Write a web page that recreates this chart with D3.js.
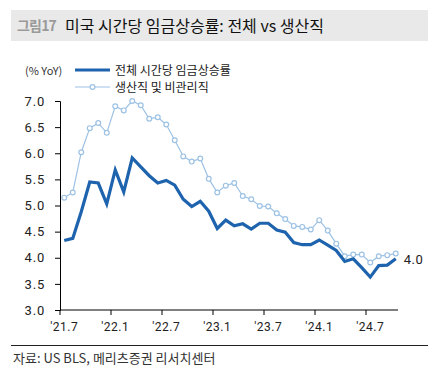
<!DOCTYPE html>
<html>
<head>
<meta charset="utf-8">
<script src="https://cdn.jsdelivr.net/npm/d3@7"></script>
<style>
  body { margin: 0; background: #fff; }
  svg { display: block; font-family: "Noto Sans CJK KR", "Noto Sans", sans-serif; }
</style>
</head>
<body>
<svg id="chart" width="436" height="374"></svg>
<script>
// the data
const months = [
  "21.7","21.8","21.9","21.10","21.11","21.12",
  "22.1","22.2","22.3","22.4","22.5","22.6","22.7","22.8","22.9","22.10","22.11","22.12",
  "23.1","23.2","23.3","23.4","23.5","23.6","23.7","23.8","23.9","23.10","23.11","23.12",
  "24.1","24.2","24.3","24.4","24.5","24.6","24.7","24.8","24.9","24.10"
];
const allWorkers = [
  4.33, 4.37, 4.88, 5.45, 5.43, 5.03, 5.68, 5.26, 5.91, 5.74,
  5.57, 5.43, 5.48, 5.39, 5.12, 4.98, 5.08, 4.89, 4.56, 4.72,
  4.61, 4.65, 4.55, 4.66, 4.66, 4.53, 4.49, 4.29, 4.25, 4.25,
  4.34, 4.24, 4.14, 3.93, 3.98, 3.81, 3.63, 3.85, 3.86, 3.98
];
const production = [
  5.15, 5.25, 6.02, 6.48, 6.58, 6.39, 6.90, 6.82, 7.00, 6.92,
  6.66, 6.69, 6.55, 6.25, 5.94, 5.84, 5.90, 5.51, 5.25, 5.38,
  5.43, 5.18, 5.12, 4.99, 4.98, 4.85, 4.74, 4.61, 4.59, 4.54,
  4.72, 4.52, 4.27, 4.03, 4.06, 4.06, 3.91, 4.03, 4.05, 4.08
];
const xTicks = ["21.7","22.1","22.7","23.1","23.7","24.1","24.7"];
const yTicks = [3.0, 3.5, 4.0, 4.5, 5.0, 5.5, 6.0, 6.5, 7.0];
const seriesNames = ["전체 시간당 임금상승률", "생산직 및 비관리직"];

const darkBlue = "#1e63ad";
const lightBlue = "#9dc2e4";

let svg = d3.select("#chart");

// title bar
svg.append("rect")
    .attr("x", 11).attr("y", 10)
    .attr("width", 417).attr("height", 31)
    .attr("fill", "#e9e9e9");
svg.append("text")
    .attr("x", 17).attr("y", 31)
    .attr("font-size", 14).attr("font-weight", "bold")
    .attr("fill", "#9a9a9a")
    .attr("letter-spacing", -0.8)
    .text("그림17");
svg.append("text")
    .attr("x", 65).attr("y", 31.5)
    .attr("font-size", 16)
    .attr("fill", "#111")
    .text("미국 시간당 임금상승률: 전체 vs 생산직");

// scales
let x = d3.scaleBand()
    .domain(months)
    .range([60, 400]);

let y = d3.scaleLinear()
    .domain([3.0, 7.0])
    .range([310, 101]);

// axes
let yAxis = svg.append("g")
    .attr("transform", "translate(60,0)")
    .call(d3.axisLeft(y).tickValues(yTicks).tickFormat(d3.format(".1f")).tickSizeOuter(0).tickSize(5).tickPadding(10));
yAxis.select(".domain").attr("stroke", "#000");
yAxis.selectAll("text").attr("font-size", 13).attr("fill", "#222")
    .attr("letter-spacing", 0.8)
    .attr("font-family", "Roboto, 'Noto Sans', sans-serif");

let xAxis = svg.append("g")
    .attr("transform", "translate(0,310)")
    .call(d3.axisBottom(x).tickValues(xTicks).tickFormat(d => "'" + d).tickSize(0).tickPadding(12));
xAxis.select(".domain").attr("d", "M60,0H398").attr("stroke", "#000");
xAxis.selectAll("text").attr("font-size", 12).attr("fill", "#222")
    .attr("letter-spacing", 0.5)
    .attr("font-family", "Roboto, 'Noto Sans', sans-serif");
// tick marks at the left edge of each labelled month
xAxis.selectAll(".tick line").remove();
xAxis.selectAll(".tick").append("line")
    .attr("x1", -x.bandwidth() / 2).attr("x2", -x.bandwidth() / 2)
    .attr("y1", 0).attr("y2", 5)
    .attr("stroke", "#000");

let cx = d => x(d) + x.bandwidth() / 2;

// production workers line
let lineGen = d3.line()
    .x((d, i) => cx(months[i]))
    .y(d => y(d));
svg.append("path")
    .datum(production)
    .attr("d", lineGen)
    .attr("fill", "none")
    .attr("stroke", lightBlue)
    .attr("stroke-width", 1.2);
svg.append("g")
    .selectAll("circle")
    .data(production)
    .enter()
    .append("circle")
    .attr("cx", (d, i) => cx(months[i]))
    .attr("cy", d => y(d))
    .attr("r", 2.4)
    .attr("fill", "#fff")
    .attr("stroke", lightBlue)
    .attr("stroke-width", 1.2);

// all workers line
svg.append("path")
    .datum(allWorkers)
    .attr("d", lineGen)
    .attr("fill", "none")
    .attr("stroke", darkBlue)
    .attr("stroke-width", 3.2)
    .attr("stroke-linejoin", "miter");

// last value label
svg.append("text")
    .attr("x", cx(months[months.length - 1]) + 8)
    .attr("y", y(allWorkers[allWorkers.length - 1]) + 5)
    .attr("font-size", 13).attr("fill", "#222")
    .attr("letter-spacing", 0.5)
    .attr("font-family", "Roboto, 'Noto Sans', sans-serif")
    .text(d3.format(".1f")(allWorkers[allWorkers.length - 1]));

// unit + legend
svg.append("text")
    .attr("x", 25).attr("y", 75)
    .attr("font-size", 11).attr("fill", "#333")
    .text("(% YoY)");

svg.append("line")
    .attr("x1", 75).attr("x2", 110).attr("y1", 70).attr("y2", 70)
    .attr("stroke", darkBlue).attr("stroke-width", 3.2);
svg.append("text")
    .attr("x", 115).attr("y", 75)
    .attr("font-size", 12).attr("fill", "#222")
    .text(seriesNames[0]);

svg.append("line")
    .attr("x1", 75).attr("x2", 110).attr("y1", 87).attr("y2", 87)
    .attr("stroke", lightBlue).attr("stroke-width", 1.2);
svg.append("circle")
    .attr("cx", 92.5).attr("cy", 87).attr("r", 2.4)
    .attr("fill", "#fff").attr("stroke", lightBlue).attr("stroke-width", 1.2);
svg.append("text")
    .attr("x", 115).attr("y", 92)
    .attr("font-size", 12).attr("fill", "#222")
    .text(seriesNames[1]);

// bottom rule + source
svg.append("line")
    .attr("x1", 11).attr("x2", 428).attr("y1", 345.5).attr("y2", 345.5)
    .attr("stroke", "#222").attr("stroke-width", 1);
svg.append("text")
    .attr("x", 13).attr("y", 363)
    .attr("font-size", 13).attr("fill", "#333")
    .text("자료: US BLS, 메리츠증권 리서치센터");
</script>
</body>
</html>
